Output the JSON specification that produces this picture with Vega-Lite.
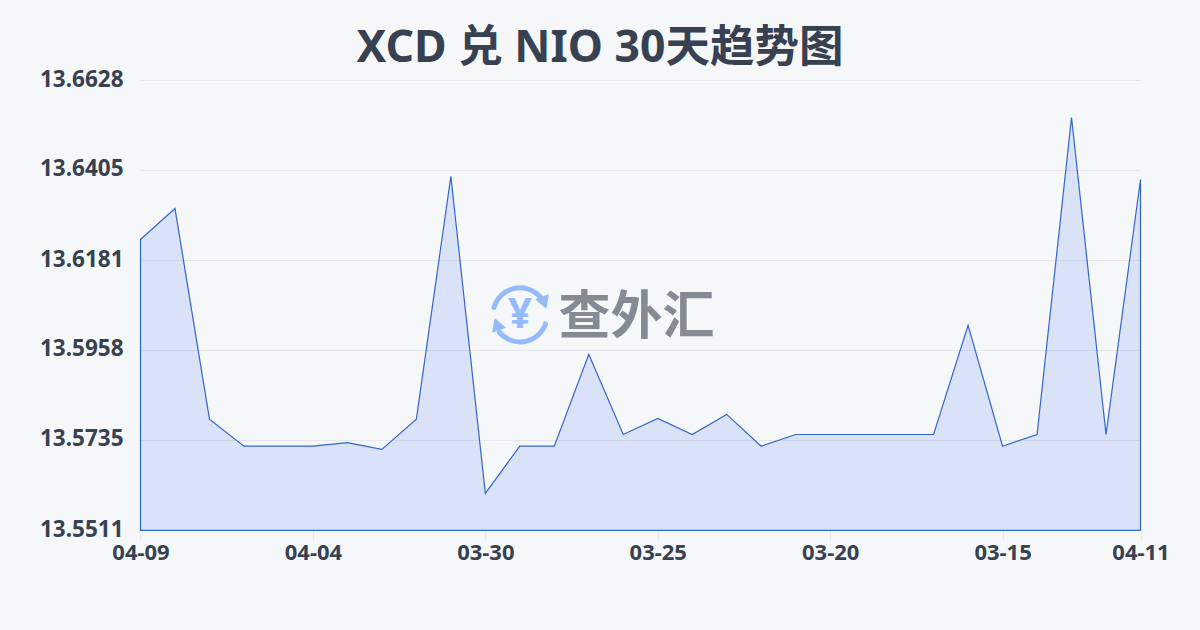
{
"$schema":"https://vega.github.io/schema/vega-lite/v6.json",
"width":1000,"height":450,
"autosize":{"type":"none"},
"padding":{"left":140,"top":80,"right":60,"bottom":100},
"background":"#f5f7f9",
"title":{"text":"XCD 兑 NIO 30天趋势图","font":"Noto Sans, Noto Sans CJK SC","fontSize":44.5,"fontWeight":"bold","color":"#374151","anchor":"middle","dx":-40,"offset":-3},
"config":{"view":{"stroke":null}},
"datasets":{
"rates":[
{"date":"04-09","rate":13.6232},{"date":"04-08","rate":13.6309},{"date":"04-07","rate":13.5786},{"date":"04-06","rate":13.5719},{"date":"04-05","rate":13.5719},{"date":"04-04","rate":13.5719},{"date":"04-03","rate":13.5728},{"date":"04-02","rate":13.5711},{"date":"04-01","rate":13.5786},{"date":"03-31","rate":13.6389},
{"date":"03-30","rate":13.5602},{"date":"03-29","rate":13.5719},{"date":"03-28","rate":13.5719},{"date":"03-27","rate":13.5947},{"date":"03-26","rate":13.5748},{"date":"03-25","rate":13.5788},{"date":"03-24","rate":13.5748},{"date":"03-23","rate":13.5798},{"date":"03-22","rate":13.5719},{"date":"03-21","rate":13.5748},
{"date":"03-20","rate":13.5748},{"date":"03-19","rate":13.5748},{"date":"03-18","rate":13.5748},{"date":"03-17","rate":13.5748},{"date":"03-16","rate":13.6019},{"date":"03-15","rate":13.5719},{"date":"03-14","rate":13.5748},{"date":"03-13","rate":13.6535},{"date":"03-12","rate":13.5748},{"date":"04-11","rate":13.6381}
],
"logoArcs":[{"ix":11.02,"rate":13.6045,"a0":-1.38,"a1":0.91},{"ix":11.02,"rate":13.6045,"a0":1.82,"a1":4.1}],
"logoHeads":[{"ix":11.72,"rate":13.6075,"head":"a","ang":160},{"ix":10.35,"rate":13.6022,"head":"b","ang":-20}],
"logoText":[{"ix":11.02,"rate":13.6045,"t":"¥"}],
"wordmark":[{"ix":14.4,"rate":13.6036,"t":"查外汇"}]
},
"layer":[
{"data":{"name":"rates"},
 "mark":{"type":"area","line":false,"fill":"#3a6be5","fillOpacity":0.15,"stroke":"#3366cc","strokeWidth":1.2,"strokeOpacity":1,"interpolate":"linear"},
 "encoding":{
  "x":{"field":"date","type":"ordinal","sort":null,"scale":{"type":"point","padding":0,"range":[0.5,1000.5]},
   "axis":{"title":null,"labelExpr":"indexof(['04-09','04-04','03-30','03-25','03-20','03-15','04-11'], datum.label) >= 0 ? datum.label : ''","tickOpacity":{"condition":{"test":"indexof(['04-09','04-04','03-30','03-25','03-20','03-15','04-11'], datum.label) >= 0","value":1},"value":0},"labelAngle":0,"labelFont":"Noto Sans","labelFontSize":22,"labelFontWeight":"bold","labelColor":"#374151","labelPadding":2,"labelOverlap":false,"labelBound":false,"domain":false,"ticks":true,"tickSize":10,"tickColor":"#e5e7eb","tickWidth":1,"grid":false}},
  "y":{"field":"rate","type":"quantitative","scale":{"domain":[13.5511,13.6628],"nice":false,"zero":false},
   "axis":{"title":null,"values":[13.5511,13.5735,13.5958,13.6181,13.6405,13.6628],"format":".4f","labelFont":"Noto Sans","labelFontSize":22.5,"labelFontWeight":"bold","labelColor":"#374151","labelPadding":17,"labelOffset":-1,"domain":false,"ticks":false,"grid":true,"gridColor":"#e5e7eb","gridWidth":1}},
  "y2":{"datum":13.5510}
 }},
{"data":{"name":"logoArcs"},
 "mark":{"type":"arc","radius":29.5,"radius2":24.5,"fill":"#94bcfa","cornerRadius":2},
 "encoding":{
  "x":{"field":"ix","type":"quantitative","scale":{"domain":[0,29],"nice":false,"zero":false},"axis":null},
  "y":{"field":"rate","type":"quantitative"},
  "theta":{"field":"a0","type":"quantitative","scale":null},
  "theta2":{"field":"a1"}
 }},
{"data":{"name":"logoHeads"},
 "mark":{"type":"point","shape":"triangle-up","filled":true,"fill":"#94bcfa","opacity":1,"size":220},
 "encoding":{
  "x":{"field":"ix","type":"quantitative","scale":{"domain":[0,29],"nice":false,"zero":false},"axis":null},
  "y":{"field":"rate","type":"quantitative"},
  "angle":{"field":"ang","type":"quantitative","scale":null}
 }},
{"data":{"name":"logoText"},
 "mark":{"type":"text","font":"Noto Sans","fontWeight":"bold","fontSize":42,"fill":"#94bcfa","align":"center","baseline":"middle"},
 "encoding":{
  "x":{"field":"ix","type":"quantitative","scale":{"domain":[0,29],"nice":false,"zero":false},"axis":null},
  "y":{"field":"rate","type":"quantitative"},
  "text":{"field":"t"}
 }},
{"data":{"name":"wordmark"},
 "mark":{"type":"text","font":"Noto Sans CJK SC","fontWeight":"bold","fontSize":52,"fill":"#858b94","align":"center","baseline":"middle"},
 "encoding":{
  "x":{"field":"ix","type":"quantitative","scale":{"domain":[0,29],"nice":false,"zero":false},"axis":null},
  "y":{"field":"rate","type":"quantitative"},
  "text":{"field":"t"}
 }}
],
"resolve":{"scale":{"x":"independent"}}
}
